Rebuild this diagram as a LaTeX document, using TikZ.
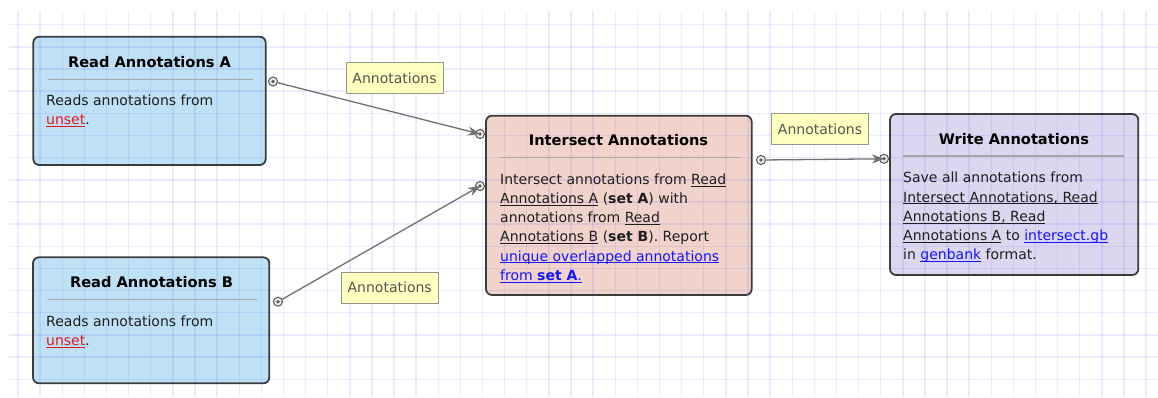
\documentclass[tikz,border=0pt]{standalone}
\usepackage{fontspec}
\setmainfont{DejaVu Sans}
\usetikzlibrary{arrows.meta}
\definecolor{gridc}{RGB}{40,40,255}
\definecolor{bluefill}{RGB}{190,225,245}
\definecolor{redfill}{RGB}{242,211,203}
\definecolor{violetfill}{RGB}{220,215,239}
\definecolor{boxborder}{RGB}{60,60,60}
\definecolor{sepc}{RGB}{165,165,165}
\definecolor{bodyc}{RGB}{30,30,30}
\definecolor{linkblue}{RGB}{20,20,255}
\definecolor{linkred}{RGB}{230,20,30}
\definecolor{connc}{RGB}{112,112,112}
\definecolor{portc}{RGB}{95,95,95}
\definecolor{lblfill}{RGB}{255,255,192}
\definecolor{lbldraw}{RGB}{150,150,140}
\definecolor{lbltext}{RGB}{85,85,85}
\newcommand\ulk[1]{{\setbox0=\hbox{#1}\rlap{\rule[-2.2pt]{\wd0}{0.9pt}}\box0}}
\newcommand\lnkb[1]{{\color{linkblue}\ulk{#1}}}
\newcommand\lnkr[1]{{\color{linkred}\ulk{#1}}}
\newcommand\fs{\rule{0pt}{11pt}}
\begin{document}
\begin{tikzpicture}[x=1pt,y=-1pt,
  gridline/.style={draw=gridc,draw opacity=0.09,line width=1.4pt},
  procbox/.style={draw=boxborder,line width=1.8pt,rounded corners=6pt,
    inner sep=0pt,outer sep=0pt},
  titletext/.style={anchor=base,inner sep=0pt,font=\fontsize{14.6}{18}\selectfont\bfseries,text=black},
  bodytext/.style={anchor=north west,inner sep=0pt,align=left,
    font=\fontsize{14}{19.2}\selectfont,text=bodyc},
  sepline/.style={draw=sepc,line width=1.3pt},
  conn/.style={draw=connc,line width=1.3pt,-{Stealth[length=12pt,width=9pt]}},
  port/.style={circle,draw=portc,line width=1.1pt,fill=white!85!gray,minimum size=9pt,inner sep=0pt},
  lbl/.style={draw=lbldraw,line width=1pt,fill=lblfill,text=lbltext,
    minimum width=97pt,minimum height=31pt,inner sep=0pt,font=\fontsize{14}{16}\selectfont}
]
\useasboundingbox (0,0) rectangle (1158,397);

% boxes
\node[procbox,fill=bluefill,minimum width=232.4pt,minimum height=128.3pt] (ra) at (149.5,100.85) {};
\node[procbox,fill=bluefill,minimum width=236.3pt,minimum height=126pt] (rb) at (151.15,320.3) {};
\node[procbox,fill=redfill,minimum width=265.7pt,minimum height=179.3pt] (ia) at (618.85,205.35) {};
\node[procbox,fill=violetfill,minimum width=248.3pt,minimum height=161pt] (wa) at (1014.15,194.5) {};

% grid (translucent, over the boxes)
\foreach \k in {0,...,51} \draw[gridline] ({18+22.12*\k},11) -- ({18+22.12*\k},397);
\foreach \k in {0,...,16} \draw[gridline] (9,{24.7+22.16*\k}) -- (1158,{24.7+22.16*\k});

% titles
\node[titletext] (ta) at (149.5,67.5) {Read Annotations A};
\node[titletext] (tb) at (151.5,287.3) {Read Annotations B};
\node[titletext] (ti) at (618.5,145.5) {Intersect Annotations};
\node[titletext] (tw) at (1013.9,144) {Write Annotations};

% separators
\draw[sepline] (47.7,79.3) -- (253.3,79.3);
\draw[sepline] (47.7,299.3) -- (256.7,299.3);
\draw[sepline] (500,157.7) -- (740,157.7);
\draw[sepline] (903,156) -- (1124,156);

% bodies
\node[bodytext] (ba) at (46,94.5) {\fs Reads annotations from\\\lnkr{unset}.};
\node[bodytext] (bb) at (46,315) {\fs Reads annotations from\\\lnkr{unset}.};
\node[bodytext] (bi) at (500,173) {\fs Intersect annotations from \ulk{Read}\\
\ulk{Annotations A} (\textbf{set A}) with\\
annotations from \ulk{Read}\\
\ulk{Annotations B} (\textbf{set B}). Report\\
\lnkb{unique overlapped annotations}\\
\lnkb{from \textbf{set A}.}};
\node[bodytext] (bw) at (903,171.7) {\fs Save all annotations from\\
\ulk{Intersect Annotations, Read}\\
\ulk{Annotations B, Read}\\
\ulk{Annotations A} to \lnkb{intersect.gb}\\
in \lnkb{genbank} format.};

% ports
\node[port] (pa) at (273,81.5) {};
\node[port] (pb) at (278,301.7) {};
\node[port] (pi1) at (480,134) {};
\node[port] (pi2) at (480,186) {};
\node[port] (po) at (761,160) {};
\node[port] (pw) at (884,158.8) {};
\foreach \p in {pa,pb,pi1,pi2,po,pw} \fill[portc] (\p) circle (1.9pt);

% connectors
\draw[conn] (pa) -- (pi1.center);
\draw[conn] (pb) -- (pi2.center);
\draw[conn] (po) -- (pw.center);

% labels
\node[lbl] (l1) at (394.5,77.8) {Annotations};
\node[lbl] (l2) at (389.7,287.5) {Annotations};
\node[lbl] (l3) at (820,128.8) {Annotations};
\end{tikzpicture}
\end{document}
